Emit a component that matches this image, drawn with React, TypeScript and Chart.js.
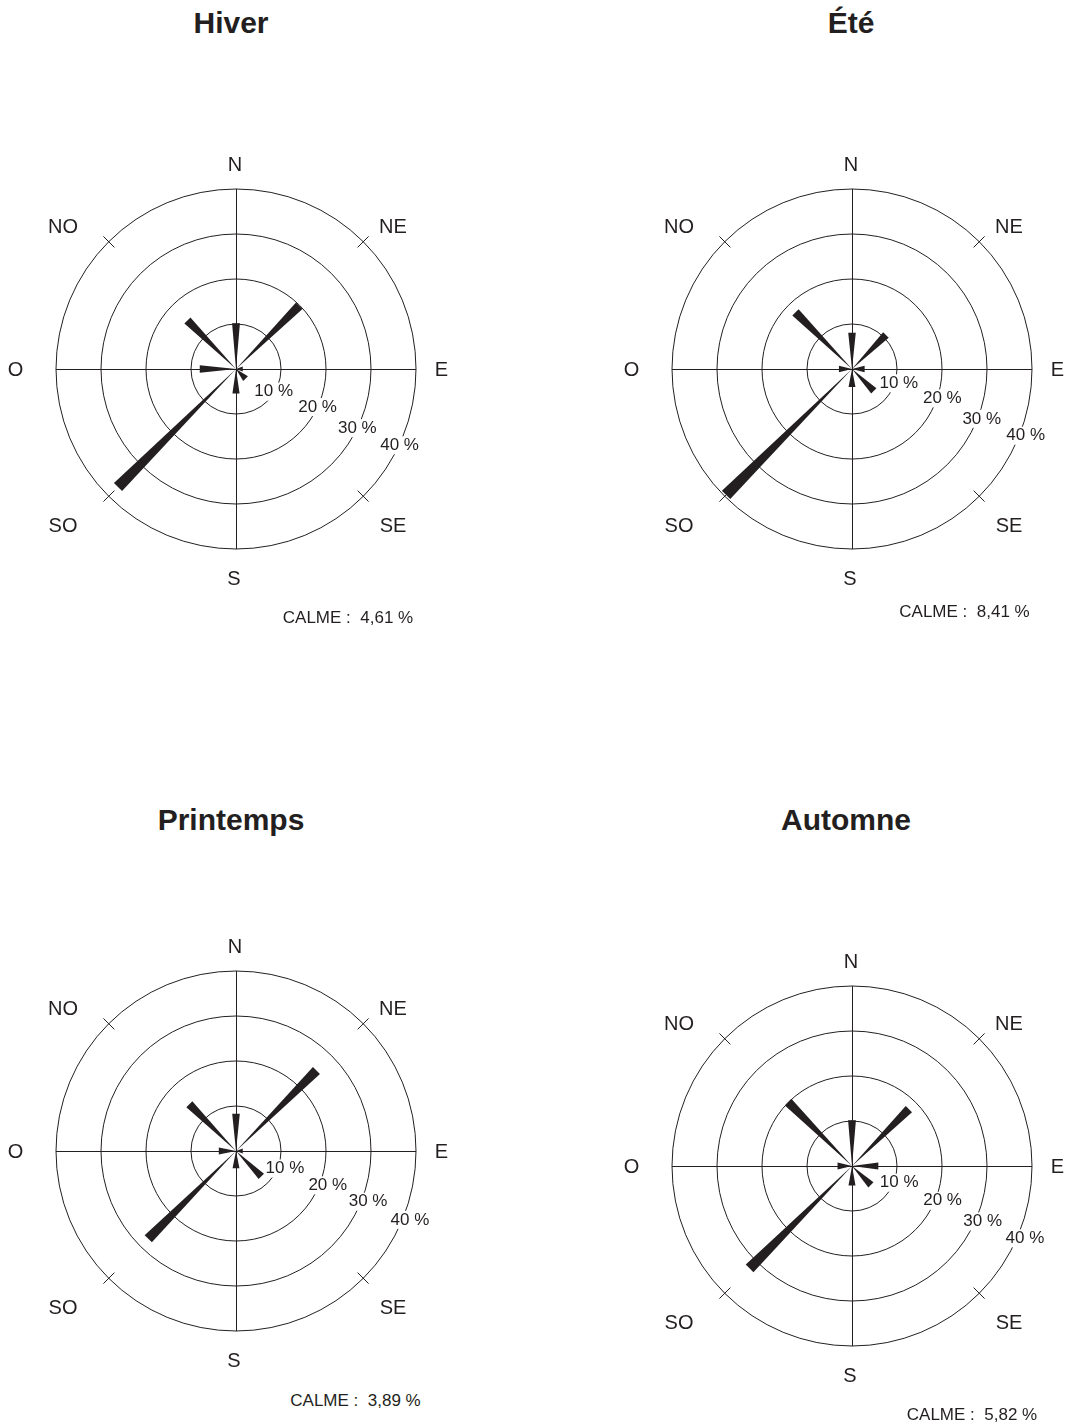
import { useEffect, useRef } from 'react';
import { Chart, registerables } from 'chart.js';

Chart.register(...registerables);

// Compass sectors, clockwise from north
const DIRECTIONS = ['N', 'NE', 'E', 'SE', 'S', 'SO', 'O', 'NO'];
const RING_TICKS = [10, 20, 30, 40];

// Wind frequency (%) per sector and season
const SEASON_TITLES = ['Hiver', 'Été', 'Printemps', 'Automne'];
const HIVER_FREQ = [10.2, 19.9, 1.6, 3.1, 5.5, 37.1, 8.1, 15.3];
const ETE_FREQ = [8.1, 10.7, 2.9, 6.9, 4.1, 39.6, 3.0, 17.8];
const PRINTEMPS_FREQ = [8.3, 25.3, 1.6, 8.0, 3.9, 27.6, 3.9, 14.7];
const AUTOMNE_FREQ = [10.2, 17.9, 5.9, 6.0, 4.4, 32.2, 3.3, 20.1];
const CALME_PCT = [4.61, 8.41, 3.89, 5.82];

const SEASON_FREQ = [HIVER_FREQ, ETE_FREQ, PRINTEMPS_FREQ, AUTOMNE_FREQ];

// ---- styling / layout ----
const INK = '#231f20';
const FONT = '"Liberation Sans", Arial, Helvetica, sans-serif';
const CANVAS = 480;
const PAD = 60; // chart area = 360px -> 40 % ring radius 180px
const PX_PER_PCT = (CANVAS - 2 * PAD) / 2 / 40;

// text-centre offsets of the compass letters from the rose centre
const COMPASS_OFFSETS: [number, number][] = [
  [-1, -204], [157, -142], [205.5, 1], [157, 157],
  [-2, 210], [-173, 157], [-220.5, 1], [-173, -142],
];

type Panel = {
  cx: number; cy: number;
  titleX: number; titleY: number;
  calmeX: number; calmeY: number;
  ringLabels: [number, number][]; // [angle below east in deg, radial shift px]
};

const PANELS: Panel[] = [
  { cx: 235.5, cy: 369, titleX: 231, titleY: 22.5, calmeX: 348, calmeY: 617.3,
    ringLabels: [[31, -1], [25, 0], [26, 0], [25, 0.5]] },
  { cx: 852, cy: 369, titleX: 851, titleY: 22.5, calmeX: 964.5, calmeY: 611,
    ringLabels: [[17, 4], [18, 5], [21, 4], [21, 6]] },
  { cx: 236, cy: 1151, titleX: 231, titleY: 820, calmeX: 355.5, calmeY: 1400,
    ringLabels: [[19.7, 7], [20.5, 8], [21, 6.5], [21.6, 7]] },
  { cx: 852, cy: 1166, titleX: 846, titleY: 820, calmeX: 972, calmeY: 1414,
    ringLabels: [[19.5, 5], [21, 7], [23, 7], [22.7, 7.5]] },
];

// angular span (deg) of a tapered spike: its far end is a few px wide
function spikeSpan(v: number): number {
  const rpx = Math.max(v * PX_PER_PCT, 1);
  const endWidth = 6.5 + 0.03 * rpx;
  return Math.min((2 * Math.atan(endWidth / 2 / rpx) * 180) / Math.PI, 40);
}

// interleave spikes with empty gaps so every spike is centred on its heading
function buildSlices(values: number[]) {
  const spans = values.map(spikeSpan);
  const data: number[] = [];
  const angle: number[] = [];
  const labels: string[] = [];
  data.push(0); angle.push(22.5 - spans[0] / 2); labels.push('');
  values.forEach((v, i) => {
    data.push(v); angle.push(spans[i]); labels.push(DIRECTIONS[i]);
    const next = i + 1 < values.length ? 45 - spans[i] / 2 - spans[i + 1] / 2 : 22.5 - spans[i] / 2;
    data.push(0); angle.push(Math.max(next, 0)); labels.push('');
  });
  return { data, angle, labels };
}

const roseFrame = {
  id: 'roseFrame',
  beforeDatasetsDraw(chart: any, _args: any, opts: any) {
    const r = chart.scales.r;
    const ctx: CanvasRenderingContext2D = chart.ctx;
    const cx = r.xCenter;
    const cy = r.yCenter;
    const R = r.getDistanceFromCenterForValue(r.max);
    ctx.save();

    // ring value labels, each on a white patch that breaks its ring
    ctx.font = `17px ${FONT}`;
    ctx.textAlign = 'center';
    ctx.textBaseline = 'middle';
    RING_TICKS.forEach((v, i) => {
      const [deg, shift] = opts.ringLabels[i];
      const d = r.getDistanceFromCenterForValue(v) + shift;
      const a = (deg * Math.PI) / 180;
      const x = cx + d * Math.cos(a);
      const y = cy + d * Math.sin(a);
      const text = `${v} %`;
      const w = ctx.measureText(text).width;
      ctx.fillStyle = '#fff';
      ctx.fillRect(x - w / 2 - 3, y - 9, w + 6, 18);
      ctx.fillStyle = INK;
      ctx.fillText(text, x, y);
    });

    // N-S / E-O axes and the diagonal ticks on the outer ring
    ctx.strokeStyle = INK;
    ctx.lineWidth = 1;
    ctx.beginPath();
    ctx.moveTo(cx - R, cy + 0.5);
    ctx.lineTo(cx + R, cy + 0.5);
    ctx.moveTo(cx + 0.5, cy - R);
    ctx.lineTo(cx + 0.5, cy + R);
    [45, 135, 225, 315].forEach((deg) => {
      const a = (deg * Math.PI) / 180;
      ctx.moveTo(cx + (R - 8) * Math.cos(a), cy + (R - 8) * Math.sin(a));
      ctx.lineTo(cx + (R + 7.5) * Math.cos(a), cy + (R + 7.5) * Math.sin(a));
    });
    ctx.stroke();

    // compass letters
    ctx.font = `20px ${FONT}`;
    ctx.fillStyle = INK;
    DIRECTIONS.forEach((d, i) => {
      const [dx, dy] = COMPASS_OFFSETS[i];
      ctx.fillText(d, cx + dx, cy + dy);
    });
    ctx.restore();
  },
};

function Rose({ values, panel }: { values: number[]; panel: Panel }) {
  const ref = useRef<HTMLCanvasElement>(null);
  useEffect(() => {
    if (!ref.current) return;
    const slices = buildSlices(values);
    const chart = new Chart(ref.current, {
      type: 'polarArea',
      data: {
        labels: slices.labels,
        datasets: [
          {
            data: slices.data,
            angle: slices.angle,
            backgroundColor: INK,
            borderWidth: 0,
            circular: false,
          } as any,
        ],
      },
      options: {
        responsive: false,
        animation: false,
        events: [],
        layout: { padding: PAD },
        plugins: {
          legend: { display: false },
          tooltip: { enabled: false },
          roseFrame: { ringLabels: panel.ringLabels },
        } as any,
        scales: {
          r: {
            min: 0,
            max: 40,
            startAngle: -22.5,
            ticks: { display: false, stepSize: 10 },
            grid: { circular: true, color: INK, lineWidth: 1 },
            angleLines: { display: false },
            pointLabels: { display: false },
          },
        },
      },
      plugins: [roseFrame],
    });
    return () => chart.destroy();
  }, [values, panel]);

  return (
    <canvas
      ref={ref}
      width={CANVAS}
      height={CANVAS}
      style={{ position: 'absolute', left: panel.cx - CANVAS / 2, top: panel.cy - CANVAS / 2 }}
    />
  );
}

function formatPct(v: number) {
  return `${v.toFixed(2).replace('.', ',')} %`;
}

export default function App() {
  return (
    <div style={{ position: 'absolute', left: 0, top: 0, width: 1066, height: 1425, background: '#fff', overflow: 'hidden', fontFamily: FONT, color: INK }}>
      {PANELS.map((p, i) => (
        <div key={SEASON_TITLES[i]}>
          <div
            style={{
              position: 'absolute', left: p.titleX - 200, width: 400, top: p.titleY - 14.65,
              fontSize: 30, lineHeight: '30px', fontWeight: 'bold', textAlign: 'center',
            }}
          >
            {SEASON_TITLES[i]}
          </div>
          <Rose values={SEASON_FREQ[i]} panel={p} />
          <div
            style={{
              position: 'absolute', left: p.calmeX - 150, width: 300, top: p.calmeY - 8.3,
              fontSize: 17, lineHeight: '17px', textAlign: 'center', whiteSpace: 'pre',
            }}
          >
            {`CALME :  ${formatPct(CALME_PCT[i])}`}
          </div>
        </div>
      ))}
    </div>
  );
}
